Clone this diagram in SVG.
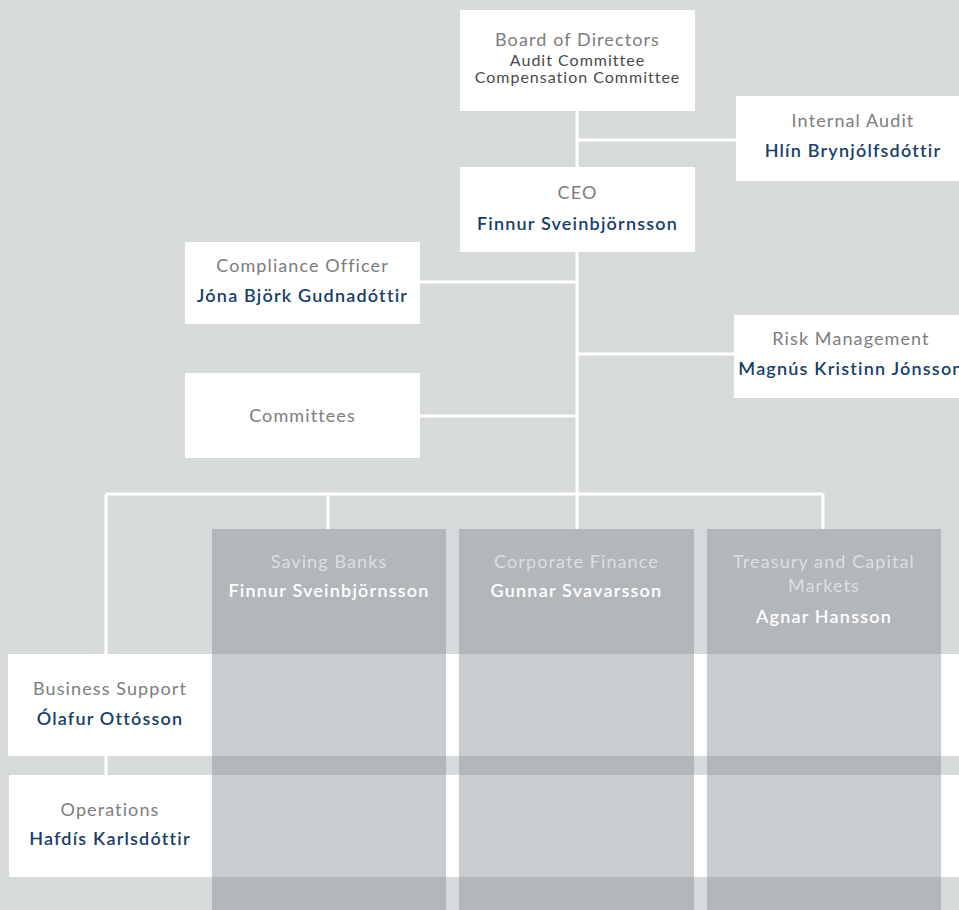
<svg xmlns="http://www.w3.org/2000/svg" width="959" height="910" viewBox="0 0 959 910">
<style>
.box{fill:#ffffff}
.col{fill:#b3b7ba}
.colw{fill:#c9cdd0}
.ln{stroke:#ffffff;stroke-width:3;fill:none}
text{font-family:Lato,"Open Sans","Liberation Sans",sans-serif;text-anchor:middle}
.t{font-size:18px;letter-spacing:1.1px;fill:#7d7d7d}
.n{font-size:18px;letter-spacing:1.2px;fill:#173f6a;font-weight:600}
.s{font-size:16px;letter-spacing:1px;fill:#4a4a4a}
.ct{font-size:18px;letter-spacing:1.1px;fill:#dcdfe0}
.cn{font-size:18px;letter-spacing:1.2px;fill:#ffffff;font-weight:600}
</style>
<rect width="959" height="910" fill="#d7dadb"/>
<g id="connectors">
<path class="ln" d="M577 111V167M577 140H736M577 252V529M420 282H577M577 354H734M420 416H577M106 494H823M328 494V529M823 494V529M106 494V654M106 756V775"/>
</g>
<g id="board"><rect class="box" x="460" y="10" width="235" height="101"/>
<text class="t" x="577.5" y="46">Board of Directors</text>
<text class="s" x="577.5" y="66">Audit Committee</text>
<text class="s" x="577.5" y="83">Compensation Committee</text></g>
<g id="internal-audit"><rect class="box" x="736" y="96" width="234" height="85"/>
<text class="t" x="853" y="127">Internal Audit</text>
<text class="n" x="853" y="157">Hlín Brynjólfsdóttir</text></g>
<g id="ceo"><rect class="box" x="460" y="167" width="235" height="85"/>
<text class="t" x="577.5" y="199">CEO</text>
<text class="n" x="577.5" y="230">Finnur Sveinbjörnsson</text></g>
<g id="compliance"><rect class="box" x="185" y="242" width="235" height="82"/>
<text class="t" x="302.5" y="272">Compliance Officer</text>
<text class="n" x="302.5" y="302">Jóna Björk Gudnadóttir</text></g>
<g id="risk"><rect class="box" x="734" y="315" width="234" height="83"/>
<text class="t" x="851" y="345">Risk Management</text>
<text class="n" x="851" y="375">Magnús Kristinn Jónsson</text></g>
<g id="committees"><rect class="box" x="185" y="373" width="235" height="85"/>
<text class="t" x="302.5" y="422">Committees</text></g>
<g id="business-support"><rect class="box" x="8" y="654" width="951" height="102"/>
<text class="t" x="110" y="695">Business Support</text>
<text class="n" x="110" y="725">Ólafur Ottósson</text></g>
<g id="operations"><rect class="box" x="9" y="775" width="950" height="102"/>
<text class="t" x="110" y="816">Operations</text>
<text class="n" x="110" y="845">Hafdís Karlsdóttir</text></g>
<g id="saving-banks"><rect class="col" x="212" y="529" width="234" height="381"/>
<rect class="colw" x="212" y="654" width="234" height="102"/><rect class="colw" x="212" y="775" width="234" height="102"/>
<text class="ct" x="329" y="568">Saving Banks</text>
<text class="cn" x="329" y="597">Finnur Sveinbjörnsson</text></g>
<g id="corporate-finance"><rect class="col" x="459" y="529" width="235" height="381"/>
<rect class="colw" x="459" y="654" width="235" height="102"/><rect class="colw" x="459" y="775" width="235" height="102"/>
<text class="ct" x="576.5" y="568">Corporate Finance</text>
<text class="cn" x="576.5" y="597">Gunnar Svavarsson</text></g>
<g id="treasury"><rect class="col" x="707" y="529" width="234" height="381"/>
<rect class="colw" x="707" y="654" width="234" height="102"/><rect class="colw" x="707" y="775" width="234" height="102"/>
<text class="ct" x="824" y="568">Treasury and Capital</text>
<text class="ct" x="824" y="592">Markets</text>
<text class="cn" x="824" y="623">Agnar Hansson</text></g>
</svg>
